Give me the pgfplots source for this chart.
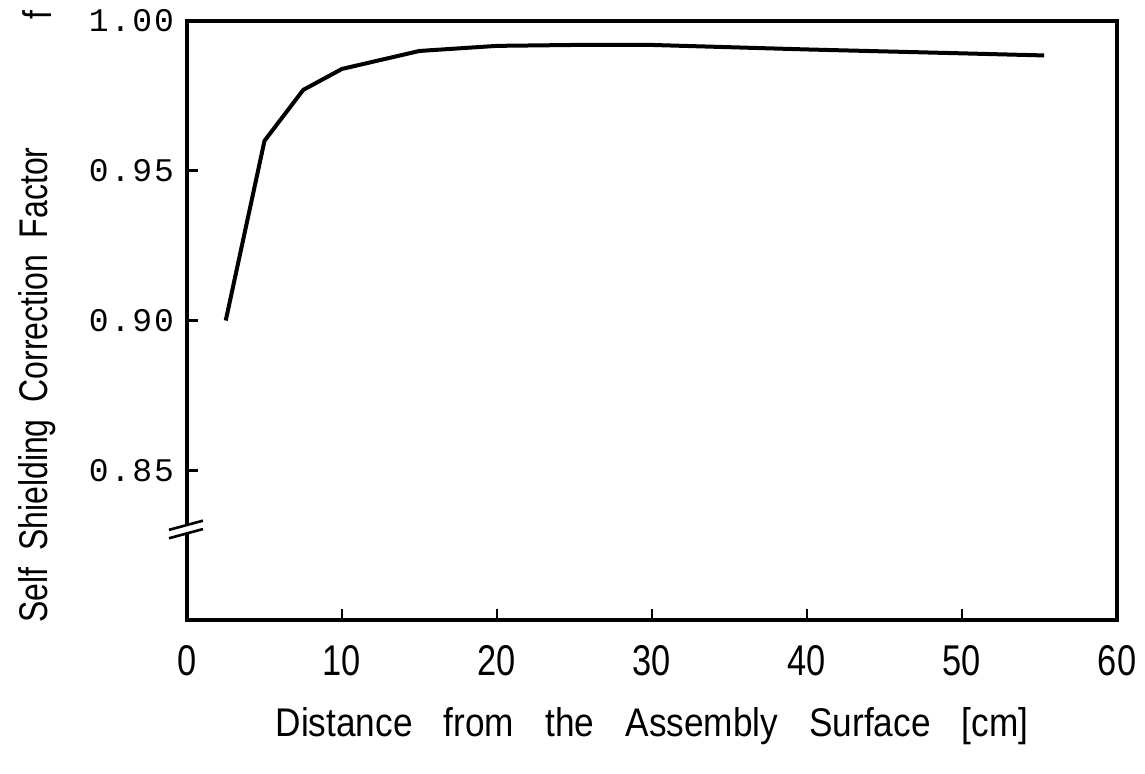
\documentclass[border=0pt]{standalone}
\usepackage{fontspec}
\setmainfont{Liberation Sans}
\newfontfamily\condfont{Liberation Sans}[FakeStretch=0.8]
\newfontfamily\widefont{Liberation Sans}[FakeStretch=0.88]
\newfontfamily\monofont{Liberation Mono}[LetterSpace=6]
\usepackage{pgfplots}
\pgfplotsset{compat=1.18}

\begin{document}
\begin{tikzpicture}
% fixed page frame around the axis box
\useasboundingbox (-93.5pt,-76.5pt) rectangle (479pt,310pt);
\begin{axis}[
  at={(0,0)}, anchor=south west,
  width=465pt, height=299.5pt, scale only axis,
  xmin=0, xmax=60, ymin=0.80, ymax=1.00,
  xtick={0,10,...,60},
  ytick={0.85,0.90,0.95,1.00},
  xtick pos=bottom, ytick pos=left,
  tick align=inside,
  major tick length=5.5pt,
  tick style={line width=1.4pt, black},
  axis line style={line width=2.4pt},
  /pgf/number format/assume math mode=true,
  xticklabel style={font=\condfont\fontsize{21.5pt}{24pt}\selectfont, yshift=-9pt},
  yticklabel style={font=\monofont\fontsize{16.5pt}{18pt}\selectfont,
    /pgf/number format/fixed, /pgf/number format/fixed zerofill,
    /pgf/number format/precision=2, xshift=-3pt},
  clip=false,
]
\addplot[black, line width=2pt, line join=round] coordinates {
  (2.5,0.900) (5,0.960) (7.5,0.977) (10,0.984) (15,0.990) (20,0.9917)
  (25,0.9920) (30,0.9920) (40,0.9905) (50,0.9892) (55.3,0.9885)
};
\coordinate (brk) at (axis cs:0,0.8305);
\coordinate (flab) at (axis cs:0,1.00);
\end{axis}
% break marks on the value axis
\fill[white] ([shift={(-2pt,-3.2pt)}]brk) -- ([shift={(2pt,-2pt)}]brk) -- ([shift={(2pt,2pt)}]brk) -- ([shift={(-2pt,0.8pt)}]brk) -- cycle;
\draw[line width=1.3pt] ([shift={(-9pt,-4.8pt)}]brk) -- ([shift={(8pt,-0.2pt)}]brk);
\draw[line width=1.3pt] ([shift={(-9pt,-0.6pt)}]brk) -- ([shift={(8pt,4pt)}]brk);
% axis titles
\node[rotate=90, font=\condfont\fontsize{20pt}{22pt}\selectfont]
  at (-75pt,117.5pt) {Self\hspace{0.42em}Shielding\hspace{0.42em}Correction\hspace{0.42em}Factor};
\node[rotate=90, font=\condfont\fontsize{20pt}{22pt}\selectfont]
  at ([xshift=-75pt,yshift=3pt]flab) {f};
\node[font=\widefont\fontsize{20pt}{22pt}\selectfont]
  at (232.5pt,-53pt) {Distance\hspace{0.78em}from\hspace{0.78em}the\hspace{0.78em}Assembly\hspace{0.78em}Surface\hspace{0.78em}[cm]};
\end{tikzpicture}
\end{document}
